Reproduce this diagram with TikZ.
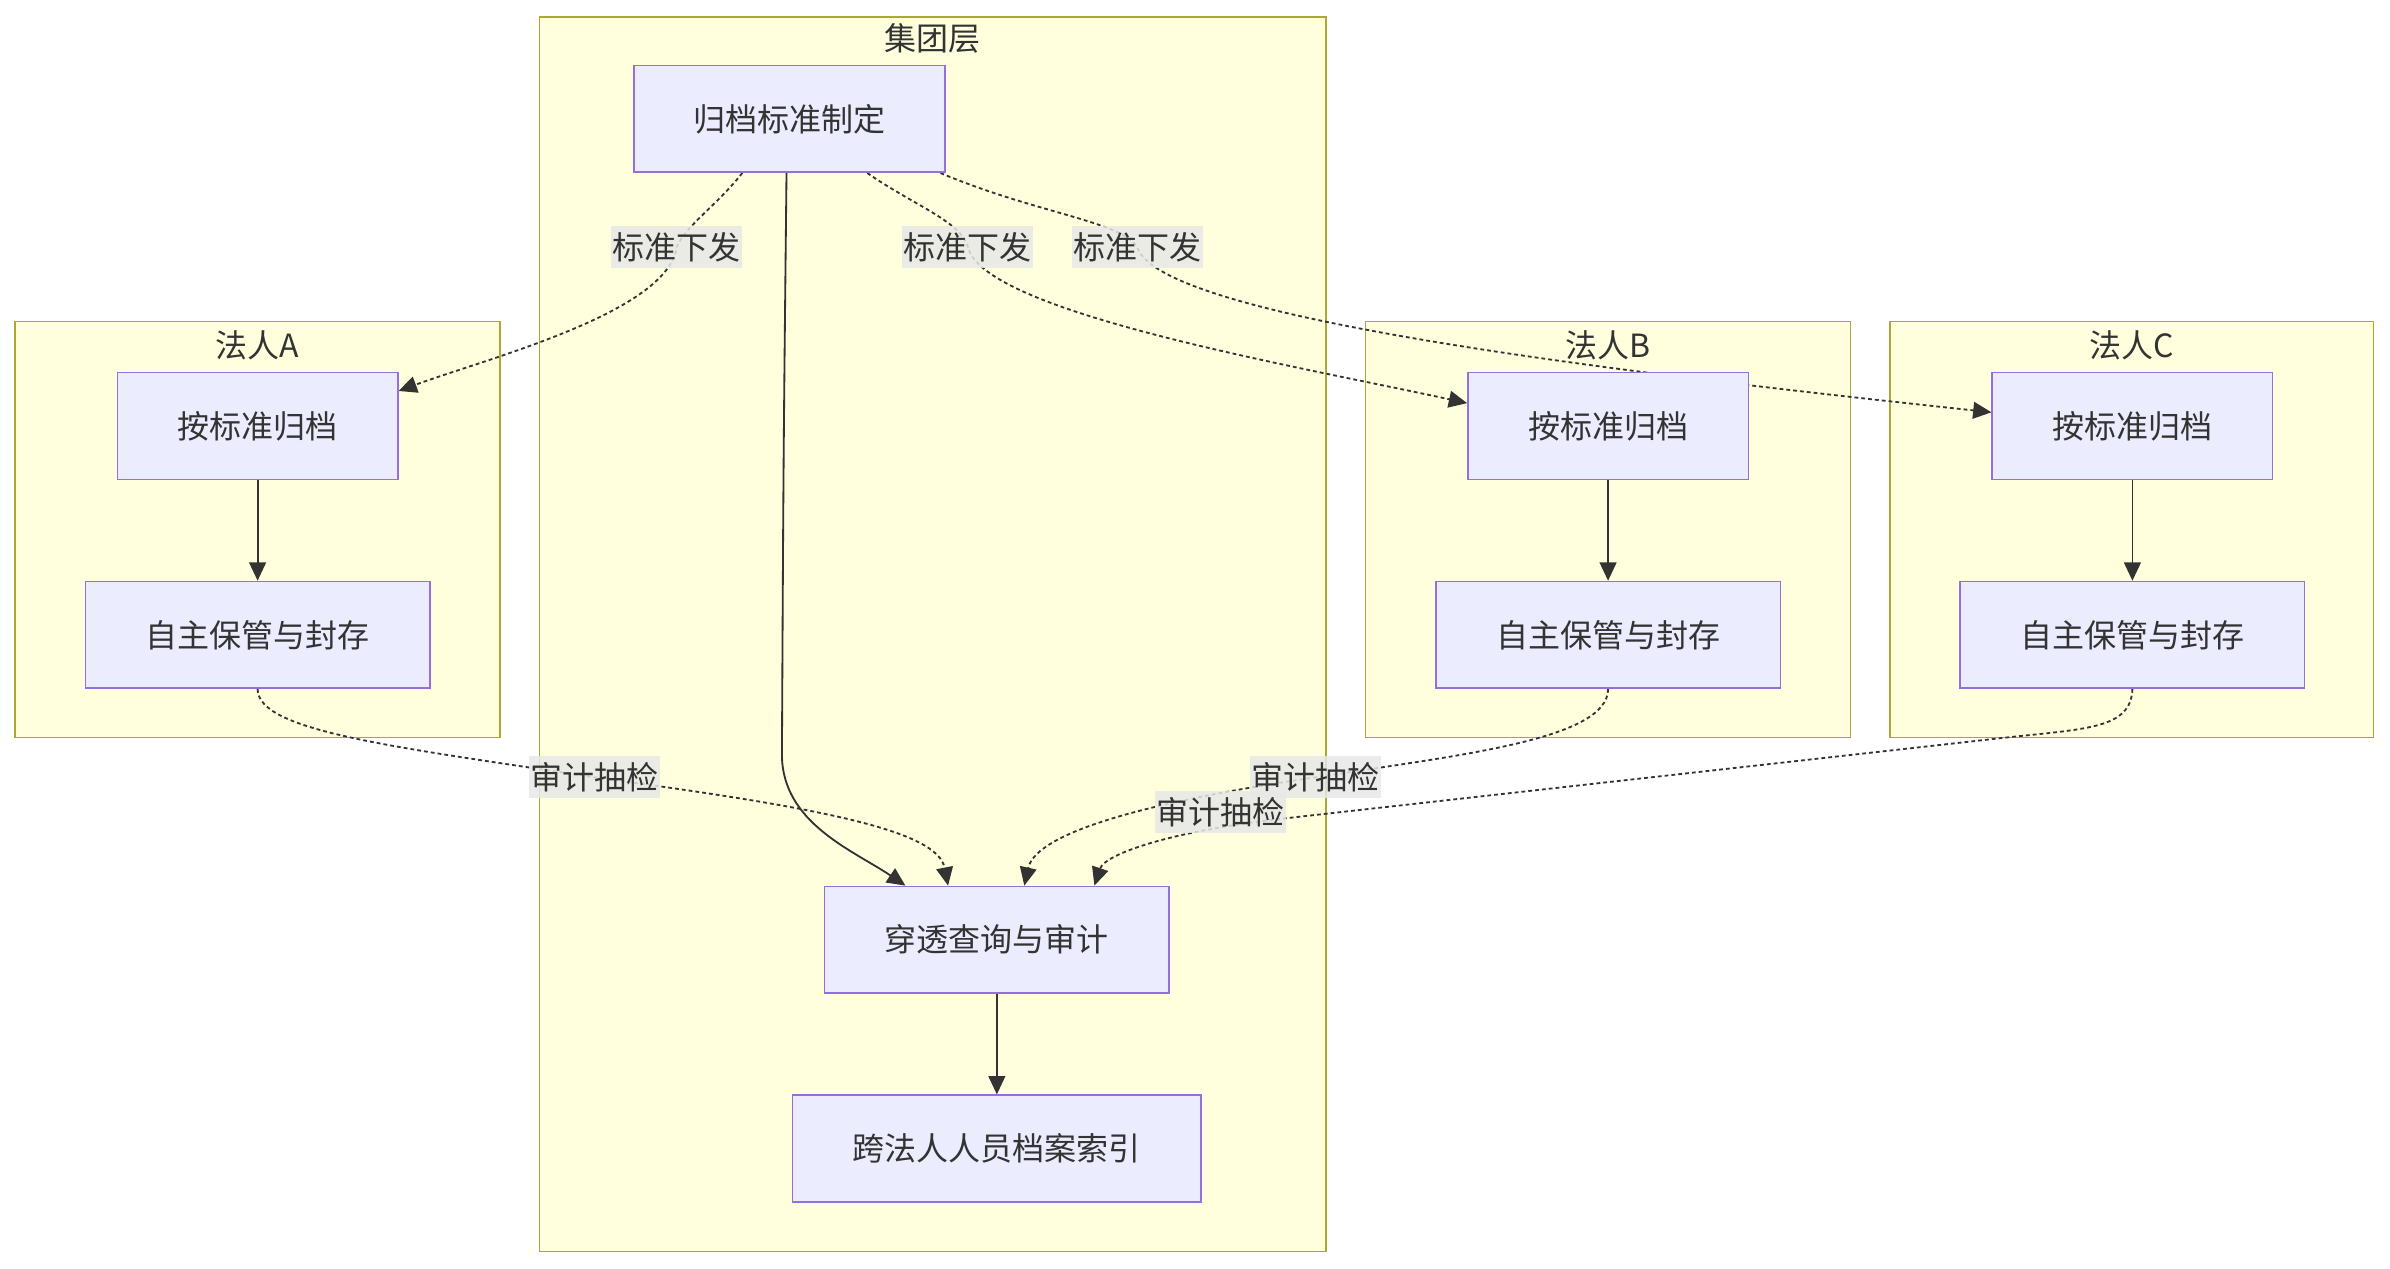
\documentclass[tikz,border=0pt]{standalone}
\usepackage{fontspec}
\setmainfont{Noto Sans CJK SC}
\usetikzlibrary{arrows.meta, positioning, backgrounds}
\definecolor{nodefill}{HTML}{ECECFF}
\definecolor{nodeline}{HTML}{9370DB}
\definecolor{grpfill}{HTML}{FFFFDE}
\definecolor{grpline}{HTML}{AAAA33}
\definecolor{ink}{HTML}{333333}
\definecolor{labbg}{HTML}{E8E8E8}
\pgfdeclarelayer{edges}
\pgfsetlayers{background,edges,main}

\begin{document}
\begin{tikzpicture}[
    x=1pt, y=-1pt,
    font=\fontsize{21}{25}\selectfont, text=ink,
    >={Triangle[length=12pt, width=11pt]},
    box/.style={draw=nodeline, fill=nodefill, line width=1pt, inner sep=0pt, minimum width=#1, minimum height=70pt},
    box/.default=184pt,
    grp/.style={draw=grpline, fill=grpfill, line width=1pt, inner sep=0pt},
    title/.style={inner sep=0pt},
    lab/.style={fill=labbg, fill opacity=0.85, text opacity=1, inner xsep=1pt, inner ysep=4pt},
    flow/.style={->, line width=1.2pt, draw=ink},
    fb/.style={->, line width=1.2pt, draw=ink, dash pattern=on 2.5pt off 2pt},
  ]
  \useasboundingbox (0,0) rectangle (1568,832);
  % ---- group level
  \node[box=204pt] (std) at (518,78) {归档标准制定};
  \node[box=226pt] (aud) at (654,616.5) {穿透查询与审计};
  \node[box=268pt, below=66pt of aud] (idx) {跨法人人员档案索引};
  % ---- legal entities
  \node[box] (a1) at (169,279.5) {按标准归档};
  \node[box=226pt, below=66pt of a1] (a2) {自主保管与封存};
  \node[box] (b1) at (1055,279.5) {按标准归档};
  \node[box=226pt, below=66pt of b1] (b2) {自主保管与封存};
  \node[box] (c1) at (1399,279.5) {按标准归档};
  \node[box=226pt, below=66pt of c1] (c2) {自主保管与封存};
  % ---- clusters
  \begin{scope}[on background layer]
    \node[grp, minimum width=516pt, minimum height=810pt] (grp) at (612,416) {};
    \node[grp, minimum width=318pt, minimum height=273pt] (la) at (169,347.5) {};
    \node[grp, minimum width=318pt, minimum height=273pt] (lb) at (1055,347.5) {};
    \node[grp, minimum width=317pt, minimum height=273pt] (lc) at (1398.5,347.5) {};
  \end{scope}
  \node[title] (grpT) at ([yshift=-15pt]grp.north) {集团层};
  \node[title] (laT) at ([yshift=-16pt]la.north) {法人A};
  \node[title] (lbT) at ([yshift=-16pt]lb.north) {法人B};
  \node[title] (lcT) at ([yshift=-16pt]lc.north) {法人C};
  % ---- arrows
  \begin{pgfonlayer}{edges}
    \draw[fb] ([xshift=-31pt]std.south) .. controls (470,135) and (450,148) .. (444,162) node[lab] {标准下发}
      .. controls (438,205) and (320,235) .. ([yshift=23pt]a1.east);
    \draw[fb] ([xshift=51pt]std.south) .. controls (600,135) and (630,145) .. (635,162) node[lab] {标准下发}
      .. controls (645,205) and (850,240) .. ([yshift=15pt]b1.west);
    \draw[fb] ([xshift=99pt]std.south) .. controls (680,140) and (735,145) .. (746,162) node[lab] {标准下发}
      .. controls (760,208) and (1050,243) .. ([yshift=9pt]c1.west);
    \draw[flow] ([xshift=-2pt]std.south) .. controls (514,300) .. (513,495)
      .. controls (513,540) and (560,558) .. ([xshift=-60pt]aud.north);
    \draw[fb] (a2.south) .. controls (169,480) and (260,490) .. (390,510) node[lab] {审计抽检}
      .. controls (540,530) and (615,545) .. ([xshift=-32pt]aud.north);
    \draw[fb] (b2.south) .. controls (1055,485) and (960,495) .. (863,510) node[lab] {审计抽检}
      .. controls (760,525) and (680,545) .. ([xshift=18pt]aud.north);
    \draw[fb] (c2.south) .. controls (1398,478) and (1370,478) .. (1315,484) -- (842,537)
      .. controls (770,545) and (725,560) .. ([xshift=64pt]aud.north)
      node[lab] at (801,533) {审计抽检};
  \end{pgfonlayer}
  \draw[flow] (a1) -- (a2);
  \draw[flow] (b1) -- (b2);
  \draw[flow] (c1) -- (c2);
  \draw[flow] (aud) -- (idx);
\end{tikzpicture}
\end{document}
